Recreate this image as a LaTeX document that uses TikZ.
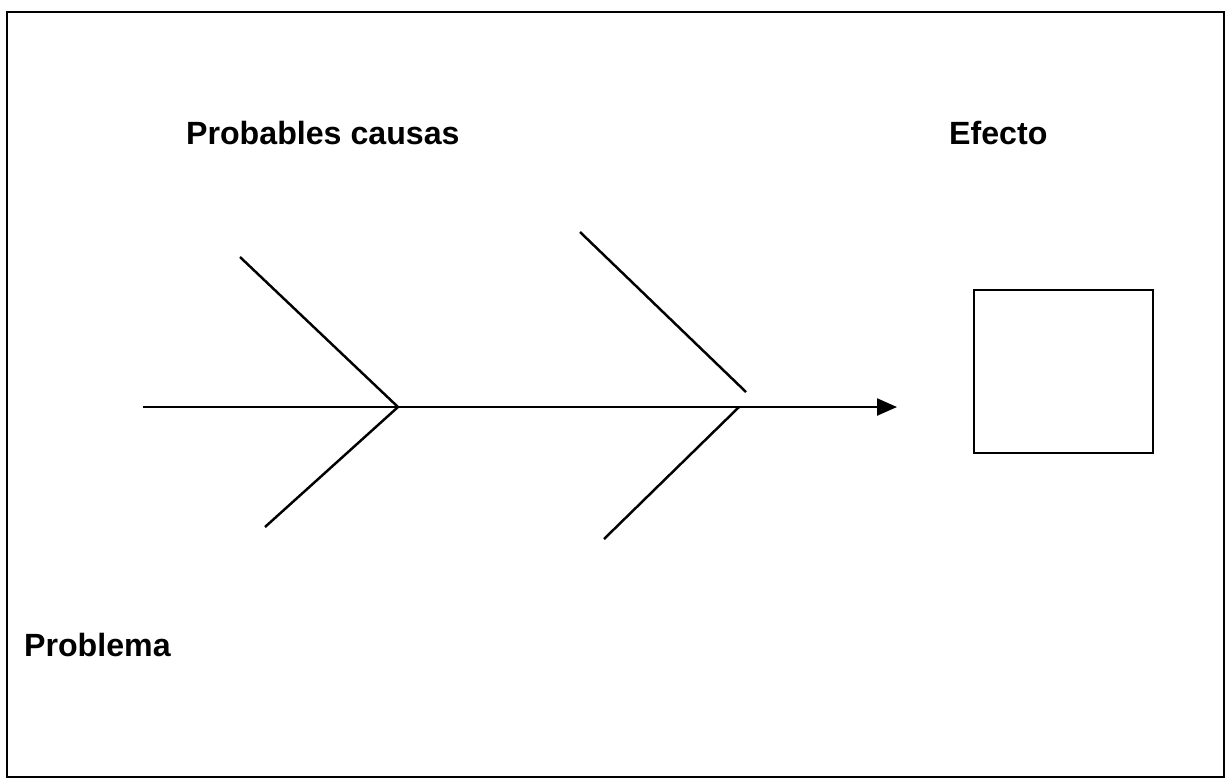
\documentclass[tikz,border=0pt]{standalone}
\usepackage{fontspec}
\setmainfont{Liberation Sans}
\usetikzlibrary{arrows.meta,positioning}

\begin{document}
\begin{tikzpicture}[x=0.02cm, y=-0.02cm, line width=1.3pt,
    every node/.style={font=\bfseries\fontsize{18.3}{20}\selectfont},
    label/.style={anchor=base west, inner sep=0pt},
    bone/.style={line width=1.4pt}]
    \useasboundingbox (0,0) rectangle (1226,779);
    % Outer frame
    \draw (7,12) rectangle (1224,777);
    % Spine of the fish
    \coordinate (tail) at (143,407);
    \coordinate (j1) at (398,407);
    \coordinate (j2) at (739,407);
    \coordinate (head) at (897,407);
    \draw[-{Triangle[length=0.4cm,width=0.34cm]}] (tail) -- (head);
    % Bones (probable causes)
    \coordinate (b1up) at (240,257);
    \coordinate (b1dn) at (265,527);
    \coordinate (b2up) at (580,232);
    \coordinate (b2end) at (746,392);
    \coordinate (b2dn) at (604,539);
    \draw[bone] (b1up) -- (j1) -- (b1dn);
    \draw[bone] (b2up) -- (b2end);
    \draw[bone] (j2) -- (b2dn);
    % Effect box
    \node[draw, minimum width=3.58cm, minimum height=3.26cm, inner sep=0pt] (efecto) at (1063.5,371.5) {};
    % Labels
    \node[label] (causas) at (185,144) {Probables causas};
    \node[label] (efectotxt) at (948,144) {Efecto};
    \node[label] (problema) at (23,656) {Problema};
\end{tikzpicture}
\end{document}
